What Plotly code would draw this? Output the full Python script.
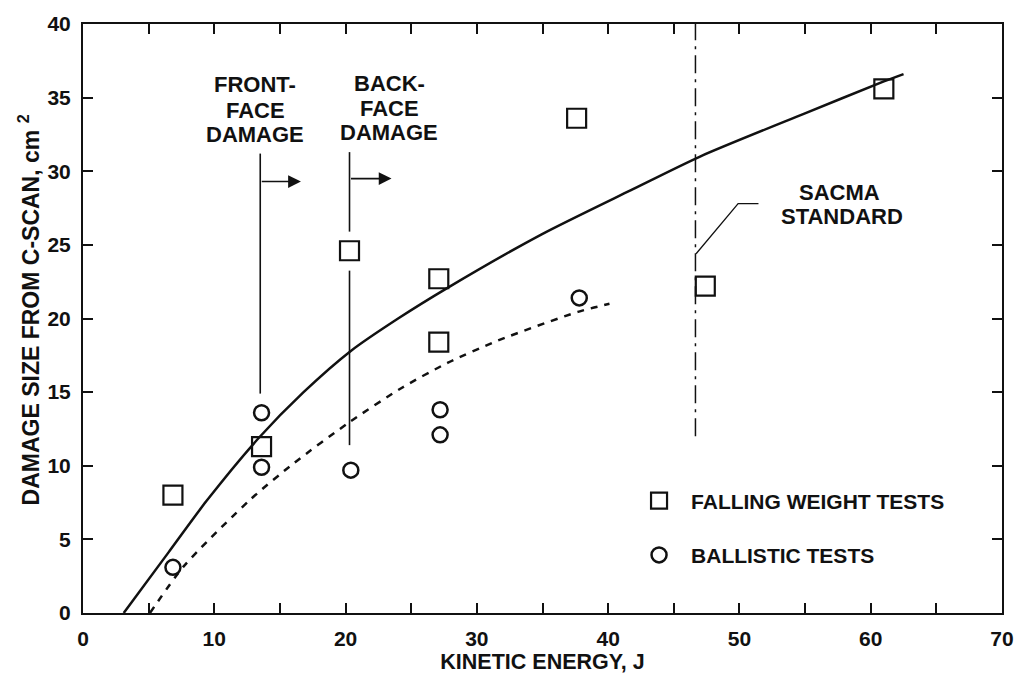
import plotly.graph_objects as go

# ---- data ----
fw_energy = [6.85, 13.6, 20.3, 27.1, 27.1, 37.6, 47.4, 61.0]
fw_damage = [8.0, 11.3, 24.6, 22.7, 18.4, 33.6, 22.2, 35.6]

bal_energy = [6.85, 13.6, 13.6, 20.4, 27.2, 27.2, 37.8]
bal_damage = [3.1, 13.6, 9.9, 9.7, 13.8, 12.1, 21.4]

fit_fw_x = [3.1, 6.5, 9.4, 13.4, 16.8, 20.4, 24.0, 27.8, 34.9, 41.7, 47.0, 54.9, 61.0, 62.5]
fit_fw_y = [0.0, 4.1, 7.6, 11.9, 15.0, 17.8, 20.0, 22.1, 25.7, 28.7, 31.0, 33.9, 36.1, 36.6]

fit_bal_x = [5.1, 7.7, 12.8, 16.1, 20.2, 24.3, 27.8, 31.6, 37.7, 40.1]
fit_bal_y = [0.0, 3.2, 7.75, 10.2, 12.9, 15.3, 17.0, 18.5, 20.45, 21.0]

x_ticks = list(range(0, 75, 5))
x_ticktext = [str(v) if v % 10 == 0 else "" for v in x_ticks]
y_ticks = list(range(0, 45, 5))

# reference markers on the chart (data units)
front_x, front_y = 13.5, [14.9, 31.2]
front_arrow = [13.5, 16.6, 29.3]          # x0, x1, y
back_x = 20.3
back_segments = [[25.9, 31.3], [11.4, 23.25]]
back_arrow = [20.3, 23.5, 29.5]
sacma_x, sacma_y = 46.65, [12.0, 40.0]
sacma_leader_x = [46.7, 49.9, 51.45]
sacma_leader_y = [24.4, 27.8, 27.8]

# text labels: (text, x, y)
labels = [
    ("FRONT-", 13.12, 35.87), ("FACE", 13.12, 34.13), ("DAMAGE", 13.12, 32.53),
    ("BACK-", 23.31, 35.95), ("FACE", 23.31, 34.27), ("DAMAGE", 23.31, 32.6),
    ("SACMA", 57.6, 28.56), ("STANDARD", 57.8, 26.91),
]

FONT = "Liberation Sans, Arial, sans-serif"
BLACK = "#111111"

fig = go.Figure()

fig.add_trace(go.Scatter(x=fit_fw_x, y=fit_fw_y, mode="lines",
                         line=dict(color=BLACK, width=2.5, shape="spline", smoothing=0.7),
                         showlegend=False, hoverinfo="skip"))
fig.add_trace(go.Scatter(x=fit_bal_x, y=fit_bal_y, mode="lines",
                         line=dict(color=BLACK, width=2.5, dash="7px,7px", shape="spline", smoothing=0.7),
                         showlegend=False, hoverinfo="skip"))

fig.add_trace(go.Scatter(x=fw_energy, y=fw_damage, mode="markers", name="FALLING WEIGHT TESTS",
                         legendgroup="a",
                         marker=dict(symbol="square-open", size=19, color=BLACK, line=dict(width=2.2, color=BLACK))))
fig.add_trace(go.Scatter(x=bal_energy, y=bal_damage, mode="markers", name="BALLISTIC TESTS",
                         legendgroup="b",
                         marker=dict(symbol="circle-open", size=15, color=BLACK, line=dict(width=2.5, color=BLACK))))

# vertical reference lines
fig.add_shape(type="line", xref="x", yref="y", x0=front_x, x1=front_x, y0=front_y[0], y1=front_y[1],
              line=dict(color=BLACK, width=1.6))
for seg in back_segments:
    fig.add_shape(type="line", xref="x", yref="y", x0=back_x, x1=back_x, y0=seg[0], y1=seg[1],
                  line=dict(color=BLACK, width=1.6))
fig.add_shape(type="line", xref="x", yref="y", x0=sacma_x, x1=sacma_x, y0=sacma_y[0], y1=sacma_y[1],
              line=dict(color=BLACK, width=1.5, dash="18px,6px,3px,6px"))
fig.add_trace(go.Scatter(x=sacma_leader_x, y=sacma_leader_y, mode="lines",
                         line=dict(color=BLACK, width=1.3), showlegend=False, hoverinfo="skip"))

# arrows
for a in (front_arrow, back_arrow):
    fig.add_annotation(x=a[1], y=a[2], ax=a[0], ay=a[2], xref="x", yref="y", axref="x", ayref="y",
                       text="", showarrow=True, arrowhead=2, arrowsize=1.6, arrowwidth=1.6,
                       arrowcolor=BLACK, standoff=0, startstandoff=0)

ann_font = dict(family=FONT, size=22, color=BLACK, weight="bold")
for txt, lx, ly in labels:
    fig.add_annotation(x=lx, y=ly, xref="x", yref="y", text=txt, showarrow=False,
                       font=ann_font, xanchor="center", yanchor="middle")

# y-axis title as annotation (positioned as in reference)
fig.add_annotation(x=-0.059, y=0.515, xref="paper", yref="paper", xanchor="center", yanchor="middle",
                   text="DAMAGE SIZE FROM C-SCAN, cm <sup>2</sup>", textangle=-90,
                   showarrow=False, font=dict(family=FONT, size=23, color=BLACK, weight="bold"))

axis_common = dict(showgrid=False, zeroline=False, showline=True, linecolor=BLACK, linewidth=2,
                   ticks="inside", ticklen=10, tickwidth=2, tickcolor=BLACK, mirror="ticks",
                   tickfont=dict(family=FONT, size=21, color=BLACK, weight="bold"))

fig.update_xaxes(range=[0, 70], tickvals=x_ticks, ticktext=x_ticktext, ticklabelstandoff=6,
                 title=dict(text="KINETIC ENERGY, J", standoff=2,
                            font=dict(family=FONT, size=21.5, color=BLACK, weight="bold")),
                 **axis_common)
fig.update_yaxes(range=[0, 40], tickvals=y_ticks, ticklabelstandoff=6, **axis_common)

fig.update_layout(
    width=1026, height=679,
    margin=dict(l=83, r=20, t=16, b=65),
    paper_bgcolor="white", plot_bgcolor="white",
    font=dict(family=FONT, color=BLACK),
    legend=dict(x=0.592, y=0.225, xanchor="left", yanchor="top", bgcolor="rgba(0,0,0,0)",
                font=dict(family=FONT, size=21, color=BLACK, weight="bold"),
                tracegroupgap=24, itemsizing="trace", itemwidth=54),
)

fig.write_html("out.html", config={"displayModeBar": False},
               post_script="document.body.style.margin='0';document.body.style.overflow='hidden';")
